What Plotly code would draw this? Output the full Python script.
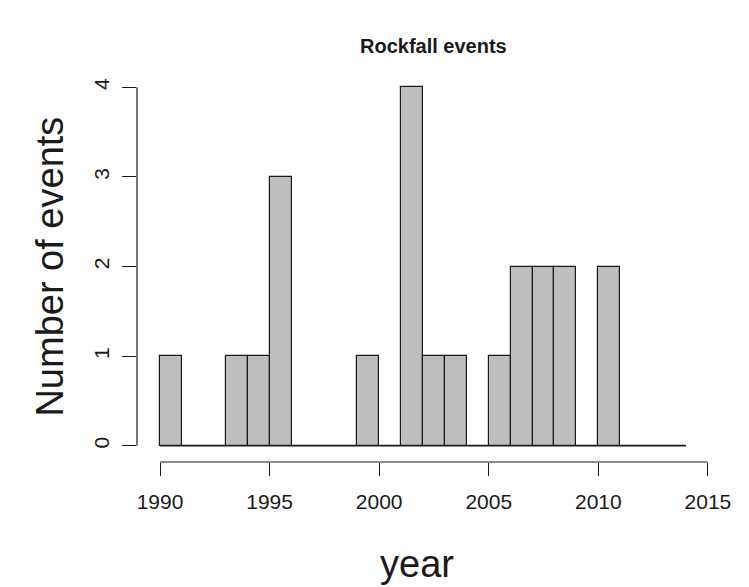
import plotly.graph_objects as go

# Histogram bins (left edges of 1-year bins) and counts
bin_left = list(range(1990, 2014))
counts = [1, 0, 0, 1, 1, 3, 0, 0, 0, 1, 0, 4, 1, 1, 0, 1, 2, 2, 2, 0, 2, 0, 0, 0]
x_ticks = [1990, 1995, 2000, 2005, 2010, 2015]
y_ticks = [0, 1, 2, 3, 4]

title_text = "Rockfall events"
x_title = "year"
y_title = "Number of events"

FONT = "Liberation Sans, Arial, sans-serif"
INK = "#1a1a1a"

fig = go.Figure()
fig.add_trace(go.Bar(
    x=bin_left, y=counts, width=1, offset=0,
    marker=dict(color="#BEBEBE", line=dict(color=INK, width=1.2)),
    hoverinfo="skip", showlegend=False,
))
# baseline spanning all bins (R draws zero-height rects as a line)
fig.add_trace(go.Scatter(
    x=[bin_left[0], bin_left[-1] + 1], y=[0, 0], mode="lines",
    line=dict(color=INK, width=1.2), hoverinfo="skip", showlegend=False,
))

# R-style axis lines limited to the tick span
fig.add_shape(type="line", xref="x", yref="paper", x0=x_ticks[0], x1=x_ticks[-1], y0=0, y1=0,
              line=dict(color=INK, width=1.2))
fig.add_shape(type="line", xref="paper", yref="y", x0=0, x1=0, y0=y_ticks[0], y1=y_ticks[-1],
              line=dict(color=INK, width=1.2))

fig.update_layout(
    width=749, height=587,
    margin=dict(l=137, r=40, t=73, b=125),
    plot_bgcolor="white", paper_bgcolor="white",
    font=dict(family=FONT, color=INK),
    bargap=0,
    xaxis=dict(range=[1988.95, 2015.05], tickvals=x_ticks, ticks="outside", ticklen=13,
               tickwidth=1.2, tickcolor=INK, showgrid=False, zeroline=False, showline=False,
               ticklabelstandoff=8, tickfont=dict(size=21, family=FONT)),
    yaxis=dict(range=[-0.18, 4.16], tickvals=y_ticks, ticks="outside", ticklen=14,
               tickwidth=1.2, tickcolor=INK, showgrid=False, zeroline=False, showline=False,
               ticklabelstandoff=5, tickangle=-90, tickfont=dict(size=21, family=FONT)),
    annotations=[
        dict(text="<b>" + title_text + "</b>", xref="paper", yref="paper", x=0.518, y=1,
             yshift=27, xanchor="center", yanchor="middle", showarrow=False,
             font=dict(size=20, family=FONT, color=INK)),
        dict(text=x_title, xref="paper", yref="paper", x=0.49, y=0, yshift=-102,
             xanchor="center", yanchor="middle", showarrow=False,
             font=dict(size=38, family=FONT, color=INK)),
        dict(text=y_title, xref="paper", yref="y", x=0, y=2, xshift=-87, textangle=-90,
             xanchor="center", yanchor="middle", showarrow=False,
             font=dict(size=38, family=FONT, color=INK)),
    ],
)

fig.write_html("out.html", config={"displayModeBar": False},
               post_script="document.body.style.margin='0';")
